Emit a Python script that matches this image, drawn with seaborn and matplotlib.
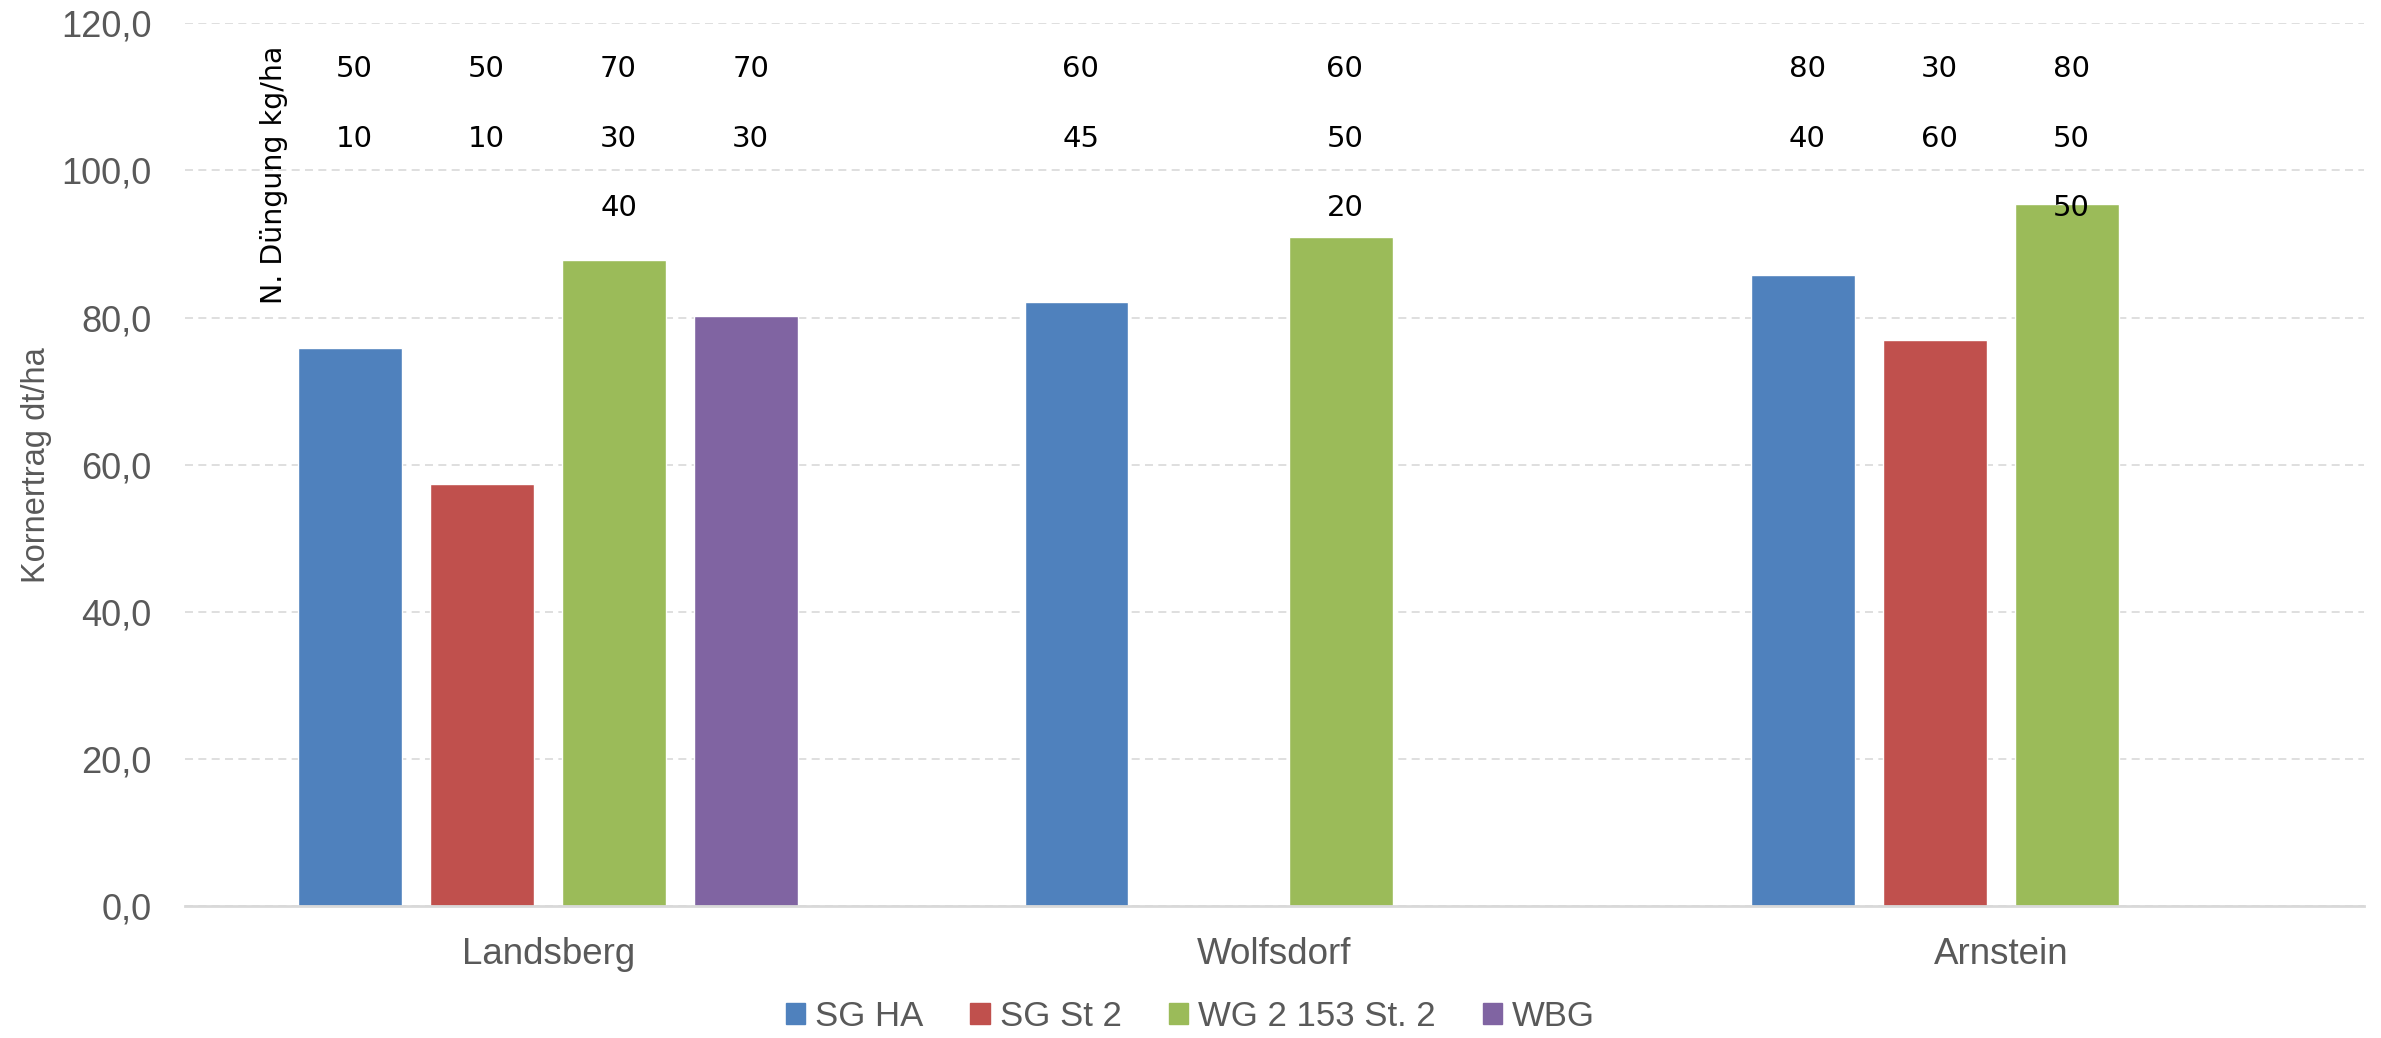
import numpy as np
import pandas as pd
import matplotlib
matplotlib.use("Agg")
import matplotlib.pyplot as plt
import seaborn as sns

# data
standorte = ["Landsberg", "Wolfsdorf", "Arnstein"]
sorten = ["SG HA", "SG St 2", "WG 2 153 St. 2", "WBG"]
farben = ["#4F81BD", "#C0504D", "#9BBB59", "#8064A2"]

ertrag_landsberg = [75.9, 57.4, 87.8, 80.2]
ertrag_wolfsdorf = [82.1, np.nan, 90.9, np.nan]
ertrag_arnstein = [85.8, 77.0, 95.5, np.nan]

# N-Duengung (kg/ha) per bar, written above the bars
n_landsberg = [[50, 10], [50, 10], [70, 30, 40], [70, 30]]
n_wolfsdorf = [[60, 45], None, [60, 50, 20], None]
n_arnstein = [[80, 40], [30, 60], [80, 50, 50], None]

y_ticks = [0, 20, 40, 60, 80, 100, 120]
y_ticklabels = ["0,0", "20,0", "40,0", "60,0", "80,0", "100,0", "120,0"]

rows = []
for ort, werte in zip(standorte, [ertrag_landsberg, ertrag_wolfsdorf, ertrag_arnstein]):
    for sorte, w in zip(sorten, werte):
        if not np.isnan(w):
            rows.append({"Standort": ort, "Sorte": sorte, "Ertrag": w})
df = pd.DataFrame(rows)

duengung = {}
for ort, liste in zip(standorte, [n_landsberg, n_wolfsdorf, n_arnstein]):
    for sorte, n in zip(sorten, liste):
        if n is not None:
            duengung[(ort, sorte)] = n

sns.set_style("white")
plt.rcParams["font.family"] = ["Liberation Sans", "DejaVu Sans"]

grey = "#595959"
fig = plt.figure(figsize=(23.81, 10.38), dpi=100)
ax = fig.add_axes([0.0777, 0.1269, 0.9152, 0.8507])

sns.barplot(data=df, x="Standort", y="Ertrag", hue="Sorte",
            order=standorte, hue_order=sorten, palette=farben,
            width=0.727, gap=0.213, errorbar=None, saturation=1,
            legend=False, ax=ax)

ax.set_ylim(0, 120)
ax.set_xlim(-0.5, 2.5)
ax.set_yticks(y_ticks)
ax.set_yticklabels(y_ticklabels)
ax.yaxis.grid(True, color="#D9D9D9", linewidth=1.2, linestyle=(0, (4.8, 3.2)))
ax.xaxis.grid(False)
ax.set_axisbelow(True)
for s in ["top", "right", "left"]:
    ax.spines[s].set_visible(False)
ax.spines["bottom"].set_color("#D9D9D9")
ax.spines["bottom"].set_linewidth(2)
ax.tick_params(axis="y", length=0, pad=24, labelsize=26, labelcolor=grey)
ax.tick_params(axis="x", length=0, pad=22, labelsize=26.5, labelcolor=grey)
ax.set_xlabel("")
ax.set_ylabel("Kornertrag dt/ha", fontsize=23.5, color=grey)
ax.yaxis.set_label_coords(-0.068, 0.5)
ax.yaxis.label.set_va("center")

# fertilizer numbers above each bar
zeilen_y = [113.8, 104.3, 94.9]
for sorte, container in zip(sorten, ax.containers):
    for bar in container:
        if np.isnan(bar.get_height()) or bar.get_height() == 0:
            continue
        cx = bar.get_x() + bar.get_width() / 2
        ort = standorte[int(round(cx))]
        werte = duengung.get((ort, sorte), [])
        for yy, v in zip(zeilen_y, werte):
            ax.text(cx + 0.006, yy, str(v), ha="center", va="center",
                    fontsize=21, color="black", family="DejaVu Sans")

ax.text(0.041, 0.828, "N. Düngung kg/ha", transform=ax.transAxes,
        rotation=90, ha="center", va="center", fontsize=20.5,
        color="black", family="DejaVu Sans")

handles = [plt.Rectangle((0, 0), 1, 1, color=c) for c in farben]
fig.legend(handles, sorten, loc="center", bbox_to_anchor=(0.5, 0.021),
           ncol=4, frameon=False, fontsize=25, labelcolor=grey,
           handlelength=0.55, handleheight=0.55, handletextpad=0.3,
           columnspacing=1.35)

fig.savefig("out.png", dpi=100)
